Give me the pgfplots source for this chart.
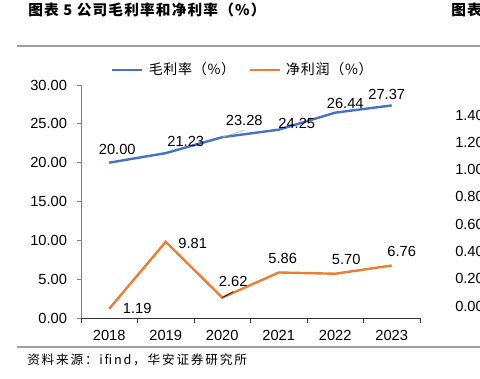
\documentclass[border=0pt]{standalone}
\usepackage{fontspec}
\setmainfont{Liberation Sans}
\newfontfamily\cjk{Noto Sans CJK SC}
\newfontfamily\cjktitle{Noto Sans CJK SC}[LetterSpace=8]
\newfontfamily\cjksrc{Noto Sans CJK SC}[LetterSpace=14]
\newfontfamily\cjkleg{Noto Sans CJK SC}[LetterSpace=5]
\usepackage{pgfplots}
\pgfplotsset{compat=1.18}
\definecolor{cblue}{HTML}{4472C4}
\definecolor{corange}{HTML}{ED7D31}
\begin{document}
\begin{tikzpicture}[lbl/.style={font=\fontsize{11}{13}\selectfont, inner sep=0pt}]
\useasboundingbox (0,0) rectangle (360pt,284.25pt);
% header / footer rules
\draw[gray!75, line width=1.1pt] (12.75pt,249.75pt) -- (360pt,249.75pt);
\draw[gray!75, line width=1.1pt] (12.75pt,24pt) -- (360pt,24pt);
\node[anchor=west, inner sep=0pt, font=\cjktitle\bfseries\fontsize{11}{13}\selectfont] at (21pt,276.75pt) {图表 5 公司毛利率和净利率（\%）};
\node[anchor=west, inner sep=0pt, font=\cjktitle\bfseries\fontsize{11}{13}\selectfont] at (338.25pt,276.75pt) {图表};
\node[anchor=west, inner sep=0pt, font=\cjksrc\fontsize{9.5}{11}\selectfont] at (20.25pt,14.25pt) {资料来源：ifind，华安证券研究所};
\foreach \v [count=\i from 0] in {0.00,0.20,0.40,0.60,0.80,1.00,1.20,1.40}
  \node[anchor=west, inner sep=0pt, font=\fontsize{11}{13}\selectfont] at (341.25pt,{54.75pt+\i*20.464pt}) {\v};
\begin{axis}[
  at={(60.75pt,45.75pt)}, anchor=south west,
  scale only axis, width=254.25pt, height=174.75pt,
  xmin=-0.5, xmax=5.5, ymin=0, ymax=30,
  axis x line*=bottom, axis y line*=left,
  x axis line style={black!80, line width=0.6pt, -},
  y axis line style={gray, line width=0.6pt, -},
  xtick={0,...,5}, xticklabels={2018,2019,2020,2021,2022,2023},
  minor xtick={-0.5,0.5,...,5.5},
  ytick={0,5,...,30},
  tick align=outside,
  major x tick style={draw=none},
  minor x tick style={black!80, line width=0.6pt},
  ytick style={gray, line width=0.6pt},
  major tick length=3pt, minor tick length=3.5pt,
  tick label style={font=\fontsize{11}{13}\selectfont},
  /pgf/number format/.cd, fixed, fixed zerofill, precision=2, assume math mode=true,
  /pgfplots/.cd,
  yticklabel style={xshift=-4pt},
  xticklabel style={yshift=-3pt},
  legend columns=2,
  legend style={draw=none, fill=none, at={(0.5,1)}, anchor=center, xshift=-5.5pt, yshift=11.25pt,
    font=\cjkleg\fontsize{10.5}{12}\selectfont,
    /tikz/every even column/.append style={column sep=8pt},
    /tikz/every odd column/.append style={column sep=2pt}},
  legend image code/.code={\draw[#1, line width=1.8pt] (0pt,0pt) -- (22.5pt,0pt);},
]
\addplot[cblue, line width=1.8pt] coordinates {(0,20.00) (1,21.23) (2,23.28) (3,24.25) (4,26.44) (5,27.37)};
\addlegendentry{毛利率（\%）}
\addplot[corange, line width=1.8pt] coordinates {(0,1.19) (1,9.81) (2,2.62) (3,5.86) (4,5.70) (5,6.76)};
\addlegendentry{净利润（\%）}
\draw[gray!60, line width=0.5pt] (axis cs:2,23.28) -- ++(16.5pt,5.25pt);
\draw[black, line width=0.5pt] (axis cs:2,2.62) -- ++(8.25pt,4.5pt);
\node[lbl, xshift=6pt, yshift=10.2pt] at (axis cs:0,20.00) {20.00};
\node[lbl, xshift=15pt, yshift=8.7pt] at (axis cs:1,21.23) {21.23};
\node[lbl, xshift=16.5pt, yshift=12.75pt] at (axis cs:2,23.28) {23.28};
\node[lbl, xshift=13.5pt, yshift=4.95pt] at (axis cs:3,24.25) {24.25};
\node[lbl, xshift=7.5pt, yshift=7.2pt] at (axis cs:4,26.44) {26.44};
\node[lbl, xshift=-3.75pt, yshift=8.25pt] at (axis cs:5,27.37) {27.37};
\node[lbl, xshift=21pt, yshift=0pt] at (axis cs:0,1.19) {1.19};
\node[lbl, xshift=20.25pt, yshift=-1.5pt] at (axis cs:1,9.81) {9.81};
\node[lbl, xshift=8.25pt, yshift=12.45pt] at (axis cs:2,2.62) {2.62};
\node[lbl, xshift=3pt, yshift=10.9pt] at (axis cs:3,5.86) {5.86};
\node[lbl, xshift=8.25pt, yshift=11pt] at (axis cs:4,5.70) {5.70};
\node[lbl, xshift=7.5pt, yshift=10.9pt] at (axis cs:5,6.76) {6.76};
\end{axis}
\end{tikzpicture}
\end{document}
